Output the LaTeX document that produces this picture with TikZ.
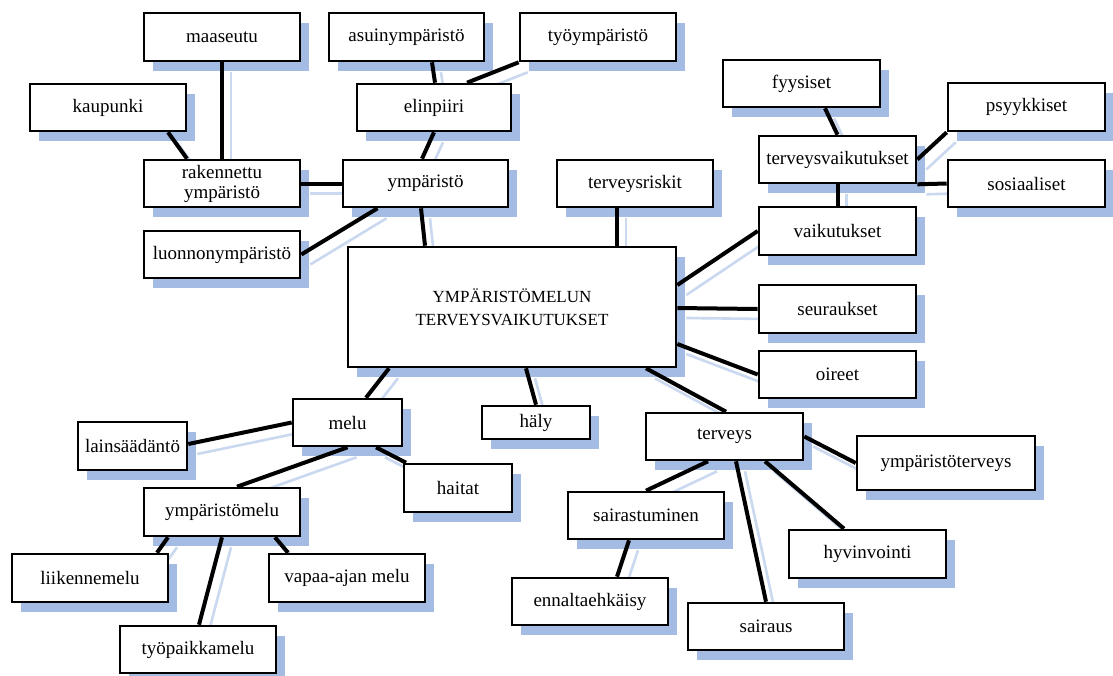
\documentclass[tikz,border=0pt]{standalone}
\usepackage{fontspec}
\setmainfont{Liberation Serif}
\usetikzlibrary{shadows,calc}
\pgfdeclarelayer{bg}
\pgfdeclarelayer{background}
\pgfsetlayers{bg,background,main}
\definecolor{shadowblue}{RGB}{164,188,228}
\definecolor{lineshadow}{RGB}{202,216,240}
\tikzset{
  box/.style={draw=black, line width=2.6pt, fill=white, inner sep=0pt, align=center,
    font=\fontsize{19}{20}\selectfont,
    drop shadow={shadow xshift=9pt, shadow yshift=-10pt, fill=shadowblue, opacity=1, draw=none}},
  conline/.style={draw=black, line width=4pt},
  shline/.style={draw=lineshadow, line width=2.6pt, transform canvas={shift={(9pt,-10pt)}}}
}
\newcommand\bx[6]{\node[box, minimum width={(#4-#2)*1pt}, minimum height={(#5-#3)*1pt}] (#1) at ({(#2+#4)/2},{(#3+#5)/2}) {#6};}
\newcommand\conn[2]{\draw[conline] #1 -- #2;
  \begin{pgfonlayer}{background}\draw[shline] #1 -- #2;\end{pgfonlayer}}
\begin{document}
\begin{tikzpicture}[x=1pt,y=-1pt]
\begin{pgfonlayer}{bg}
\fill[white] (0,0) rectangle (1113,675);
\end{pgfonlayer}
\useasboundingbox (0,0) rectangle (1113,675);
% nodes
\bx{maaseutu}{144}{13}{300}{61}{maaseutu}
\bx{asuin}{329}{13}{484}{61}{asuinympäristö}
\bx{tyoymp}{520}{13}{676}{61}{työympäristö}
\bx{kaupunki}{30}{84}{186}{131}{kaupunki}
\bx{elinpiiri}{357}{84}{511}{131}{elinpiiri}
\bx{rakennettu}{144}{160}{300}{207}{rakennettu\\ympäristö}
\bx{ymparisto}{343}{160}{508}{207}{ympäristö}
\bx{luonnon}{144}{231}{300}{278}{luonnonympäristö}
\node[box, minimum width=328pt, minimum height=120pt, font=\fontsize{17}{23}\selectfont] (center) at (512,307) {YMPÄRISTÖMELUN\\TERVEYSVAIKUTUKSET};
\bx{riskit}{557}{160}{713}{207}{terveysriskit}
\bx{fyysiset}{723}{60}{880}{107}{fyysiset}
\bx{psyykkiset}{948}{83}{1105}{131}{psyykkiset}
\bx{terveysv}{759}{136}{916}{183}{terveysvaikutukset}
\bx{sosiaaliset}{948}{160}{1105}{207}{sosiaaliset}
\bx{vaikutukset}{759}{207}{916}{255}{vaikutukset}
\bx{seuraukset}{759}{285}{916}{333}{seuraukset}
\bx{oireet}{759}{351}{916}{398}{oireet}
\bx{melu}{293}{399}{402}{446}{melu}
\bx{lainsaad}{78}{422}{187}{470}{lainsäädäntö}
\bx{haly}{482}{406}{590}{439}{häly}
\bx{haitat}{404}{464}{512}{512}{haitat}
\bx{terveys}{646}{413}{803}{460}{terveys}
\bx{ympterv}{857}{436}{1035}{490}{ympäristöterveys}
\bx{ympmelu}{144}{488}{300}{536}{ympäristömelu}
\bx{sairast}{568}{492}{724}{539}{sairastuminen}
\bx{liikenne}{12}{554}{168}{602}{liikennemelu}
\bx{vapaa}{269}{554}{425}{602}{vapaa-ajan melu}
\bx{ennal}{512}{578}{668}{625}{ennaltaehkäisy}
\bx{hyvinv}{789}{530}{946}{578}{hyvinvointi}
\bx{sairaus}{688}{603}{844}{650}{sairaus}
\bx{tyopaikka}{120}{626}{276}{673}{työpaikkamelu}
% connectors
\conn{(maaseutu.south)}{(rakennettu.north)}
\conn{([xshift=60pt]kaupunki.south)}{([xshift=-35pt]rakennettu.north)}
\conn{(rakennettu.east)}{(ymparisto.west)}
\conn{(luonnon.east)}{([xshift=-48pt]ymparisto.south)}
\conn{([xshift=25.5pt]asuin.south)}{([xshift=1pt]elinpiiri.north)}
\conn{(tyoymp.south west)}{([xshift=33pt]elinpiiri.north)}
\conn{(elinpiiri.south)}{([xshift=-3.5pt]ymparisto.north)}
\conn{([xshift=-4.5pt]ymparisto.south)}{([xshift=-87pt]center.north)}
\conn{([xshift=-18pt]riskit.south)}{([xshift=105pt]center.north)}
\conn{([xshift=23.5pt]fyysiset.south)}{(terveysv.north)}
\conn{(psyykkiset.south west)}{(terveysv.east)}
\conn{(terveysv.south east)}{(sosiaaliset.west)}
\conn{(terveysv.south)}{(vaikutukset.north)}
\conn{([yshift=22pt]center.east)}{(vaikutukset.west)}
\conn{([yshift=-1pt]center.east)}{(seuraukset.west)}
\conn{([yshift=-37pt]center.east)}{(oireet.west)}
\conn{([xshift=-123pt]center.south)}{([xshift=18.5pt]melu.north)}
\conn{([xshift=14pt]center.south)}{(haly.north)}
\conn{([xshift=134pt]center.south)}{([xshift=1.5pt]terveys.north)}
\conn{([yshift=2pt]lainsaad.east)}{(melu.west)}
\conn{(melu.south)}{([xshift=15pt]ympmelu.north)}
\conn{([xshift=28.5pt]melu.south)}{([xshift=-52pt]haitat.north)}
\conn{([xshift=-54pt]ympmelu.south)}{([xshift=67pt]liikenne.north)}
\conn{(ympmelu.south)}{([xshift=1pt]tyopaikka.north)}
\conn{([xshift=53pt]ympmelu.south)}{([xshift=-59pt]vapaa.north)}
\conn{([xshift=-16.5pt]terveys.south)}{(sairast.north)}
\conn{([xshift=-17pt]sairast.south)}{([xshift=27pt]ennal.north)}
\conn{([xshift=11.5pt]terveys.south)}{(sairaus.north)}
\conn{([xshift=40.5pt]terveys.south)}{([xshift=-23.5pt]hyvinv.north)}
\conn{(terveys.east)}{(ympterv.west)}
\end{tikzpicture}
\end{document}
